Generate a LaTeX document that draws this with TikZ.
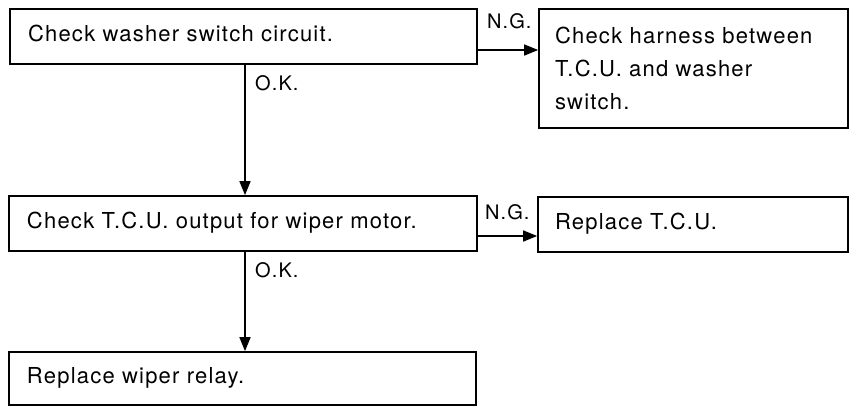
\documentclass[tikz,border=0pt]{standalone}
\usepackage{fontspec}
\setmainfont{TeX Gyre Heros}[LetterSpace=5.5]
\usetikzlibrary{arrows.meta}
\begin{document}
\begin{tikzpicture}[x=1pt,y=-1pt,
  stepbox/.style={draw=black,line width=1.7pt,rectangle,inner ysep=0pt,
    font=\fontsize{22}{33}\selectfont,align=left},
  onebox/.style={stepbox,text height=13pt,text depth=3pt},
  arr/.style={draw=black,line width=1.5pt,-{Triangle[length=14pt,width=11pt]}},
  lbl/.style={anchor=base west,inner sep=0pt,font=\fontsize{20}{22}\selectfont}]
\useasboundingbox (0,0) rectangle (856,407);
\node[onebox,minimum width=467pt,minimum height=55pt,inner xsep=18pt,text width=431pt]
  (b1) at (243.5,36.5) {Check washer switch circuit.};
\node[stepbox,minimum width=309pt,minimum height=119pt,inner xsep=16pt,text width=277pt]
  (b2) at (693.5,68.5) {Check harness between\\T.C.U. and washer\\switch.};
\node[onebox,minimum width=468pt,minimum height=55pt,inner xsep=18pt,text width=432pt]
  (b3) at (243,223.5) {Check T.C.U. output for wiper motor.};
\node[onebox,minimum width=310pt,minimum height=55pt,inner xsep=17pt,text width=276pt]
  (b4) at (693,224.5) {Replace T.C.U.};
\node[onebox,minimum width=467pt,minimum height=53pt,inner xsep=18pt,text width=431pt]
  (b5) at (242.5,378.5) {Replace wiper relay.};
\draw[arr] ([yshift=-13.5pt]b1.east) -- ([yshift=-13.5pt]b1.east -| b2.west);
\draw[arr] ([yshift=-12.5pt]b3.east) -- ([yshift=-12.5pt]b3.east -| b4.west);
\draw[arr] ([xshift=1.5pt]b1.south) -- ([xshift=1.5pt]b1.south |- b3.north);
\draw[arr] ([xshift=2pt]b3.south) -- ([xshift=2pt]b3.south |- b5.north);
\node[lbl] (ng1) at (487,28) {N.G.};
\node[lbl] (ng2) at (485,219) {N.G.};
\node[lbl] (ok1) at (255,90) {O.K.};
\node[lbl] (ok2) at (255,277) {O.K.};
\end{tikzpicture}
\end{document}
